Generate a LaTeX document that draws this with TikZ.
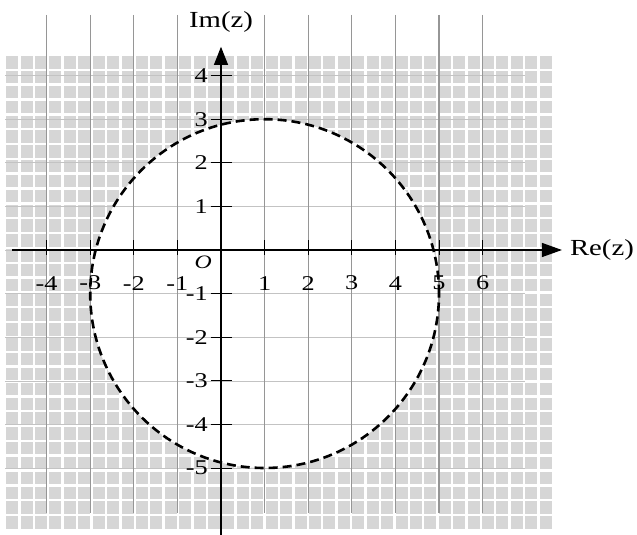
\documentclass[tikz,border=0pt]{standalone}
\usepackage{fontspec}
\setmainfont{Liberation Serif}[FakeStretch=1.25]
\usetikzlibrary{arrows.meta}
\definecolor{sqgray}{RGB}{214,214,214}
\definecolor{gridv}{RGB}{150,150,150}
\definecolor{gridh}{RGB}{195,195,195}
\tikzset{
  sq/.style={fill=sqgray},
  vline/.style={draw=gridv, line width=1.2pt},
  hline/.style={draw=gridh, line width=0.6pt},
  axis/.style={draw=black, line width=1.2pt},
  tick/.style={draw=black, line width=1pt},
  circ/.style={draw=black, line width=2.6pt, dash pattern=on 9pt off 5pt},
  num/.style={font=\fontsize{21}{23}\selectfont, inner sep=0pt},
  axlab/.style={font=\fontsize{23}{25}\selectfont, inner sep=0pt}
}
\begin{document}
\begin{tikzpicture}[x=43.6pt, y=43.6pt]
\useasboundingbox (-221pt,-285pt) rectangle (416pt,250pt);
% hatched background squares
\foreach \i in {0,...,37} {
  \foreach \j in {0,...,31} {
    \fill[sq] ({-216pt+\i*14.42pt+1.2pt},{195pt-\j*14.84pt-1.2pt}) rectangle ++(12pt,-12.4pt);
  }
}
% interior of circle is white
\fill[white] (1,-1) circle (4);
% faint horizontal grid lines
\foreach \k in {-5,...,4} {
  \coordinate (hl\k) at (-4.95,\k);
  \coordinate (hr\k) at (6.97,\k);
  \draw[hline] (hl\k) -- (hr\k);
}
% vertical grid lines
\foreach \k in {-4,-3,-2,-1,1,2,3,4,5,6} {
  \coordinate (vt\k) at (\k,5.39);
  \coordinate (vb\k) at (\k,-6.03);
  \draw[vline] (vt\k) -- (vb\k);
}
% axes
\coordinate (xs) at (-4.79,0);
\coordinate (xe) at (7.82,0);
\coordinate (ys) at (0,-6.55);
\coordinate (ye) at (0,4.66);
\draw[axis, -{Triangle[length=20pt,width=14pt]}] (xs) -- (xe);
\draw[axis, -{Triangle[length=18pt,width=14pt]}] (ys) -- (ye);
\node[axlab, anchor=west] (re) at (8.0,0) {Re(z)};
\node[axlab] (im) at (0,5.23) {Im(z)};
% ticks
\foreach \k in {-4,-3,-2,-1,1,2,3,4,5,6} {
  \coordinate (xt\k) at (\k,0.22);
  \coordinate (xb\k) at (\k,-0.12);
  \draw[tick] (xt\k) -- (xb\k);
}
\foreach \k in {-5,-4,-3,-2,-1,1,2,3,4} {
  \coordinate (yl\k) at (-0.23,\k);
  \coordinate (yr\k) at (0.25,\k);
  \draw[tick] (yl\k) -- (yr\k);
}
% circle
\draw[circ] (1,-1) circle (4);
% labels
\foreach \k in {-4,-3,-2,-1,1,2,3,4,5,6} {
  \node[num] (xn\k) at (\k,-0.76) {\k};
}
\foreach \k in {-5,-4,-3,-2,-1,1,2,3,4} {
  \node[num, anchor=east] (yn\k) at (-0.3,\k) {\k};
}
\node[num, font=\fontsize{19}{21}\selectfont] (o) at (-0.41,-0.28) {\itshape O};
\end{tikzpicture}
\end{document}
